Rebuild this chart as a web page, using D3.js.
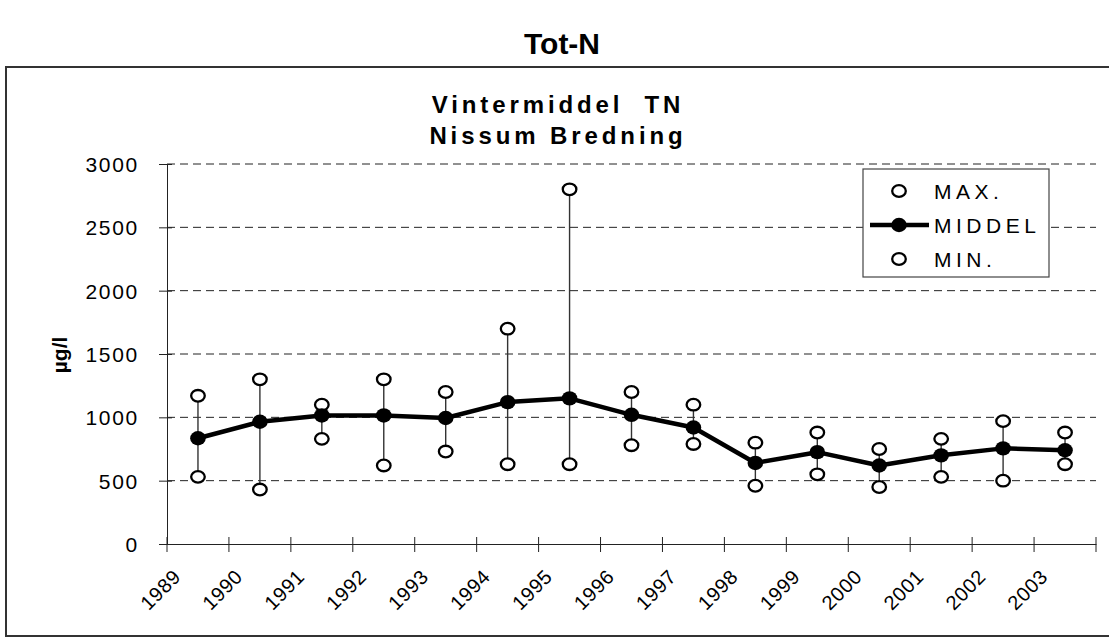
<!DOCTYPE html>
<html>
<head>
<meta charset="utf-8">
<script src="https://cdn.jsdelivr.net/npm/d3@7"></script>
<style>
  html, body { margin: 0; padding: 0; background: #fff; }
  svg { display: block; font-family: "Liberation Sans", Arial, sans-serif; }
  text { white-space: pre; }
</style>
</head>
<body>
<svg id="chart" width="1109" height="639"></svg>
<script>
const years = ["1989","1990","1991","1992","1993","1994","1995","1996","1997","1998","1999","2000","2001","2002","2003"];
const maxVals  = [1170, 1300, 1100, 1300, 1200, 1700, 2800, 1200, 1100, 800, 880, 750, 830, 970, 880];
const meanVals = [835, 965, 1015, 1015, 995, 1120, 1150, 1020, 920, 640, 725, 620, 700, 755, 740];
const minVals  = [530, 430, 830, 620, 730, 630, 630, 780, 790, 460, 550, 450, 530, 500, 630];
const yTicks = [0, 500, 1000, 1500, 2000, 2500, 3000];
const seriesNames = ["MAX.", "MIDDEL", "MIN."];

const svg = d3.select("#chart");
const FF = "Liberation Sans, Arial, sans-serif";

// outer frame
svg.append("rect").attr("x", 6).attr("y", 67).attr("width", 1120).attr("height", 569)
  .attr("fill", "none").attr("stroke", "#333").attr("stroke-width", 2);

// main title
svg.append("text").attr("x", 562).attr("y", 54).attr("text-anchor", "middle")
  .attr("font-size", 30).attr("font-weight", "bold").text("Tot-N");

// chart title
svg.append("text").attr("x", 558).attr("y", 113).attr("text-anchor", "middle")
  .attr("font-size", 24).attr("font-weight", "bold").attr("letter-spacing", 3.9).text("Vintermiddel  TN");
svg.append("text").attr("x", 558).attr("y", 144).attr("text-anchor", "middle")
  .attr("font-size", 24).attr("font-weight", "bold").attr("letter-spacing", 3.9).text("Nissum Bredning");

const x = d3.scaleBand().domain(years).range([167, 1096]);
const y = d3.scaleLinear().domain([0, 3000]).range([544, 164]);
const [x0, x1] = x.range();

// gridlines
svg.append("g").selectAll("line").data(yTicks.filter(d => d > 0)).join("line")
  .attr("x1", x0).attr("x2", x1).attr("y1", d => y(d)).attr("y2", d => y(d))
  .attr("stroke", "#222").attr("stroke-width", 1).attr("stroke-dasharray", "8,5");

// y axis
const yAxis = svg.append("g").attr("transform", `translate(${x0},0)`)
  .call(d3.axisLeft(y).tickValues(yTicks).tickFormat(d3.format("d")).tickSize(8).tickPadding(20));
yAxis.select(".domain").attr("stroke", "#222");
yAxis.selectAll(".tick line").attr("x2", -8).attr("x1", 5).attr("stroke", "#222");
yAxis.selectAll(".tick text").attr("font-size", 21).attr("letter-spacing", 1.7)
  .attr("fill", "#000").attr("font-family", FF).attr("dy", "0.36em");

// y axis title
svg.append("text").attr("transform", "translate(67,355) rotate(-90)").attr("text-anchor", "middle")
  .attr("font-size", 21).attr("font-weight", "bold").text("µg/l");

// x axis
const xAxis = svg.append("g").attr("transform", `translate(0,${y(0)})`)
  .call(d3.axisBottom(x).tickSize(0).tickPadding(0));
xAxis.select(".domain").attr("stroke", "#222");
xAxis.selectAll(".tick text")
  .attr("font-size", 20).attr("letter-spacing", 0.6).attr("fill", "#000")
  .attr("font-family", FF)
  .attr("text-anchor", "end").attr("dy", null).attr("y", null)
  .attr("transform", "translate(-16,34) rotate(-45)");
// category boundary ticks
const bounds = years.map(d => x(d)).concat([x1]);
svg.append("g").selectAll("line").data(bounds).join("line")
  .attr("x1", d => d).attr("x2", d => d).attr("y1", y(0) - 7).attr("y2", y(0) + 8)
  .attr("stroke", "#222").attr("stroke-width", 1);

const cx = i => x(years[i]) + x.bandwidth() / 2;

// high-low lines
svg.append("g").selectAll("line").data(years).join("line")
  .attr("x1", (d, i) => cx(i)).attr("x2", (d, i) => cx(i))
  .attr("y1", (d, i) => y(maxVals[i])).attr("y2", (d, i) => y(minVals[i]))
  .attr("stroke", "#333").attr("stroke-width", 1.4);

// mean line
svg.append("path").datum(meanVals)
  .attr("d", d3.line().x((d, i) => cx(i)).y(d => y(d)))
  .attr("fill", "none").attr("stroke", "#000").attr("stroke-width", 4.5).attr("stroke-linejoin", "round");

// markers
function openMarkers(vals) {
  svg.append("g").selectAll("ellipse").data(vals).join("ellipse")
    .attr("cx", (d, i) => cx(i)).attr("cy", d => y(d)).attr("rx", 6.8).attr("ry", 5.8)
    .attr("fill", "#fff").attr("stroke", "#000").attr("stroke-width", 2.3);
}
openMarkers(maxVals);
openMarkers(minVals);
svg.append("g").selectAll("ellipse").data(meanVals).join("ellipse")
  .attr("cx", (d, i) => cx(i)).attr("cy", d => y(d)).attr("rx", 7.8).attr("ry", 7.2)
  .attr("fill", "#000");

// legend
const lg = svg.append("g");
lg.append("rect").attr("x", 863).attr("y", 169).attr("width", 186).attr("height", 108)
  .attr("fill", "#fff").attr("stroke", "#444").attr("stroke-width", 1.2);
const rows = [191, 225, 259];
seriesNames.forEach((name, i) => {
  const ry = rows[i];
  if (name === "MIDDEL") {
    lg.append("line").attr("x1", 870).attr("x2", 929).attr("y1", ry).attr("y2", ry)
      .attr("stroke", "#000").attr("stroke-width", 4.5);
    lg.append("ellipse").attr("cx", 899).attr("cy", ry).attr("rx", 7.8).attr("ry", 7.2).attr("fill", "#000");
  } else {
    lg.append("ellipse").attr("cx", 899).attr("cy", ry).attr("rx", 6.8).attr("ry", 5.8)
      .attr("fill", "#fff").attr("stroke", "#000").attr("stroke-width", 2.3);
  }
  lg.append("text").attr("x", 934).attr("y", ry + 8).attr("font-size", 21).attr("letter-spacing", 4.5)
    .text(name);
});
</script>
</body>
</html>
